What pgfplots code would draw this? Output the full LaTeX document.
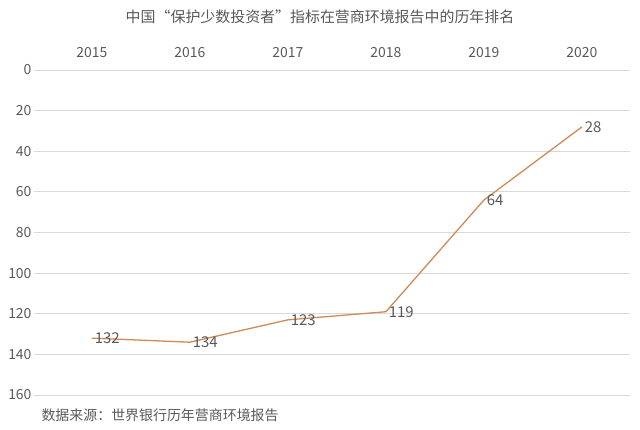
\documentclass[border=0pt]{standalone}
\usepackage{pgfplots}
\pgfplotsset{compat=1.18}
\usepackage{fontspec}
\setmainfont{Noto Sans CJK SC}
\definecolor{txt}{HTML}{595959}
\definecolor{grd}{HTML}{D9D9D9}
\definecolor{ln}{HTML}{D08A55}
\begin{document}
\begin{tikzpicture}[x=1bp,y=1bp]
\useasboundingbox (0,0) rectangle (640,429);
\begin{axis}[
  at={(34bp,34bp)}, anchor=south west,
  scale only axis, width=596bp, height=325bp,
  axis line style={draw=none},
  xmin=-0.59, xmax=5.49,
  ymin=0, ymax=160, y dir=reverse,
  ytick={0,20,...,160},
  xtick={0,...,5},
  xticklabels={2015,2016,2017,2018,2019,2020},
  xticklabel pos=upper,
  ymajorgrids, grid style={grd, line width=0.8pt},
  tick style={draw=none},
  ticklabel style={font=\fontsize{14}{16}\selectfont, text=txt},
  /pgf/number format/assume math mode=true,
  yticklabel style={xshift=1bp},
  xticklabel style={yshift=9bp},
  clip=false,
  nodes near coords,
  every node near coord/.append style={anchor=west, font=\fontsize{15}{17}\selectfont, text=txt, xshift=-1bp},
  point meta=explicit symbolic,
]
\addplot[ln, line width=1.3pt, mark=none] coordinates {
 (0,132) [132] (1,134) [134] (2,123) [123] (3,119) [119] (4,64) [64] (5,28) [28]
};
\end{axis}
\node[text=txt, font=\fontsize{15}{17}\selectfont] at (320,412) {中国“保护少数投资者”指标在营商环境报告中的历年排名};
\node[text=txt, font=\fontsize{14}{16}\selectfont, anchor=west] at (38,14) {数据来源：世界银行历年营商环境报告};
\end{tikzpicture}
\end{document}
